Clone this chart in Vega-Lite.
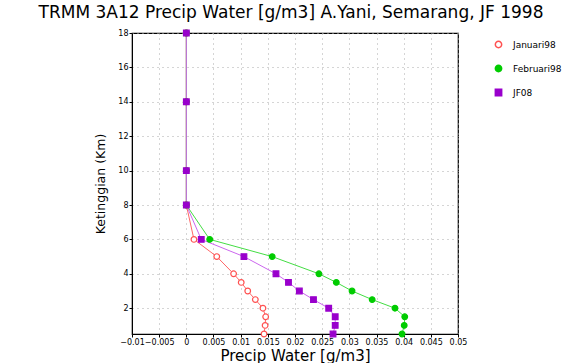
{
  "$schema": "https://vega.github.io/schema/vega-lite/v6.json",
  "autosize": {"type": "none"},
  "width": 326,
  "height": 301,
  "padding": {"left": 132, "top": 33, "right": 123, "bottom": 29},
  "background": "white",
  "title": {"text": "TRMM 3A12 Precip Water [g/m3] A.Yani, Semarang, JF 1998", "font": "DejaVu Sans", "fontSize": 17, "fontWeight": "normal", "color": "black", "anchor": "middle", "frame": "group", "offset": 6, "dx": -4},
  "config": {
    "view": {"stroke": "black", "strokeWidth": 1.2},
    "axis": {"labelFont": "DejaVu Sans", "titleFont": "DejaVu Sans", "labelFontSize": 8, "labelColor": "black", "titleColor": "black", "domainColor": "black", "tickColor": "black", "tickSize": 3, "gridColor": "#aaaaaa", "gridDash": [1, 4], "gridWidth": 1, "titleFontWeight": "normal"},
    "legend": {"orient": "none", "legendX": 362, "legendY": 7, "labelFont": "DejaVu Sans", "labelFontSize": 9, "labelColor": "black", "rowPadding": 11, "symbolSize": 40, "labelOffset": 10}
  },
  "data": {"values": [
    {"series": "Januari98", "height": 18, "value": 0},
    {"series": "Januari98", "height": 14, "value": 0},
    {"series": "Januari98", "height": 10, "value": 0},
    {"series": "Januari98", "height": 8, "value": 0},
    {"series": "Januari98", "height": 6, "value": 0.0014},
    {"series": "Januari98", "height": 5, "value": 0.0056},
    {"series": "Januari98", "height": 4, "value": 0.0087},
    {"series": "Januari98", "height": 3.5, "value": 0.0101},
    {"series": "Januari98", "height": 3, "value": 0.0113},
    {"series": "Januari98", "height": 2.5, "value": 0.0127},
    {"series": "Januari98", "height": 2, "value": 0.0141},
    {"series": "Januari98", "height": 1.5, "value": 0.0146},
    {"series": "Januari98", "height": 1, "value": 0.0145},
    {"series": "Januari98", "height": 0.5, "value": 0.0143},
    {"series": "Februari98", "height": 18, "value": 0},
    {"series": "Februari98", "height": 14, "value": 0},
    {"series": "Februari98", "height": 10, "value": 0},
    {"series": "Februari98", "height": 8, "value": 0},
    {"series": "Februari98", "height": 6, "value": 0.0043},
    {"series": "Februari98", "height": 5, "value": 0.0158},
    {"series": "Februari98", "height": 4, "value": 0.0244},
    {"series": "Februari98", "height": 3.5, "value": 0.0276},
    {"series": "Februari98", "height": 3, "value": 0.0305},
    {"series": "Februari98", "height": 2.5, "value": 0.0342},
    {"series": "Februari98", "height": 2, "value": 0.0384},
    {"series": "Februari98", "height": 1.5, "value": 0.0402},
    {"series": "Februari98", "height": 1, "value": 0.0401},
    {"series": "Februari98", "height": 0.5, "value": 0.0397},
    {"series": "JF08", "height": 18, "value": 0},
    {"series": "JF08", "height": 14, "value": 0},
    {"series": "JF08", "height": 10, "value": 0},
    {"series": "JF08", "height": 8, "value": 0},
    {"series": "JF08", "height": 6, "value": 0.00275},
    {"series": "JF08", "height": 5, "value": 0.0106},
    {"series": "JF08", "height": 4, "value": 0.0165},
    {"series": "JF08", "height": 3.5, "value": 0.0188},
    {"series": "JF08", "height": 3, "value": 0.0208},
    {"series": "JF08", "height": 2.5, "value": 0.0234},
    {"series": "JF08", "height": 2, "value": 0.0262},
    {"series": "JF08", "height": 1.5, "value": 0.0274},
    {"series": "JF08", "height": 1, "value": 0.0274},
    {"series": "JF08", "height": 0.5, "value": 0.027}
  ]},
  "encoding": {
    "x": {"field": "value", "type": "quantitative", "scale": {"domain": [-0.01, 0.05], "nice": false, "zero": false},
      "axis": {"values": [-0.01, -0.005, 0, 0.005, 0.01, 0.015, 0.02, 0.025, 0.03, 0.035, 0.04, 0.045, 0.05], "format": "~g", "title": "Precip Water [g/m3]", "titleFontSize": 15, "titlePadding": 2, "labelPadding": 1, "labelFlush": false}},
    "y": {"field": "height", "type": "quantitative", "scale": {"domain": [0.5, 18], "nice": false, "zero": false},
      "axis": {"values": [2, 4, 6, 8, 10, 12, 14, 16, 18], "title": "Ketinggian (Km)", "titleFontSize": 12.5, "titlePadding": 10, "labelPadding": 1}}
  },
  "layer": [
    {
      "mark": {"type": "line", "strokeWidth": 1, "clip": true},
      "encoding": {
        "order": {"field": "height", "type": "quantitative"},
        "color": {"field": "series", "type": "nominal", "scale": {"domain": ["Januari98", "Februari98", "JF08"], "range": ["#ff6666", "#44dd44", "#cc66ee"]}, "legend": null}
      }
    },
    {
      "mark": {"type": "point", "strokeWidth": 1.2, "opacity": 1, "size": 32},
      "encoding": {
        "stroke": {"field": "series", "type": "nominal", "scale": {"domain": ["Januari98", "Februari98", "JF08"], "range": ["#ff5050", "#00cc00", "#9900cc"]}, "title": null},
        "fill": {"field": "series", "type": "nominal", "scale": {"domain": ["Januari98", "Februari98", "JF08"], "range": ["#ffffff", "#00cc00", "#9900cc"]}, "title": null},
        "shape": {"field": "series", "type": "nominal", "scale": {"domain": ["Januari98", "Februari98", "JF08"], "range": ["circle", "circle", "square"]}, "title": null}
      }
    }
  ],
  "resolve": {"scale": {"color": "independent"}}
}
